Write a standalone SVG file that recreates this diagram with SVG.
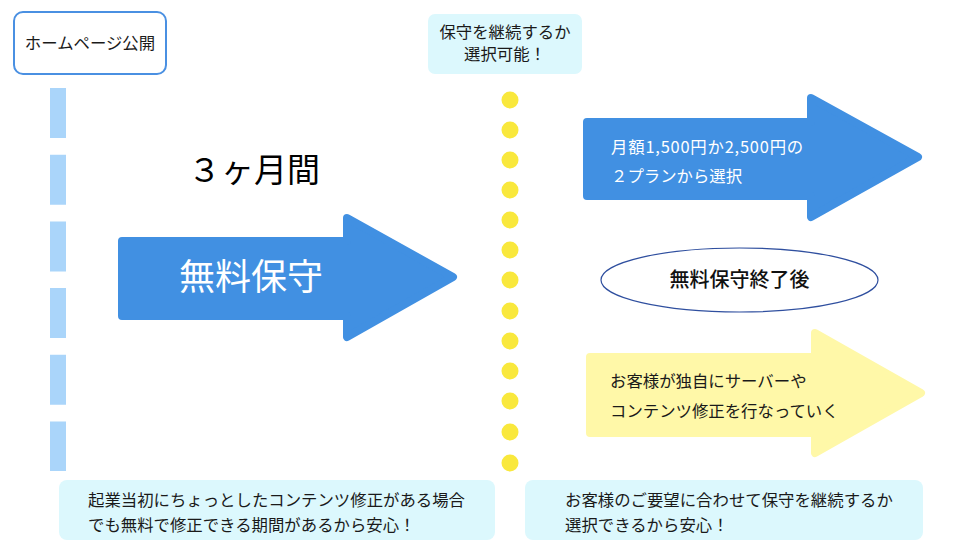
<svg xmlns="http://www.w3.org/2000/svg" width="968" height="555" viewBox="0 0 968 555">
  <style>
    text { font-family: "Noto Sans CJK JP", "Noto Sans", sans-serif; }
    .t16 { font-size: 16.4px; fill: #1a1a1a; }
    .w16 { font-size: 16.4px; fill: #ffffff; }
    .note { fill: #dcf8fd; }
    .barrow { fill: #4190e2; stroke: #4190e2; stroke-width: 8; stroke-linejoin: round; }
    .yarrow { fill: #fff8a8; stroke: #fff8a8; stroke-width: 8; stroke-linejoin: round; }
    .dot { fill: #f9e83c; }
  </style>
  <rect width="968" height="555" fill="#ffffff"/>

  <g id="connectors">
    <line x1="58" y1="88" x2="58" y2="471" stroke="#aad5fa" stroke-width="16" stroke-dasharray="50 16.7"/>
    <g id="dots">
      <circle class="dot" cx="510" cy="100" r="8.5"/>
      <circle class="dot" cx="510" cy="130" r="8.5"/>
      <circle class="dot" cx="510" cy="160" r="8.5"/>
      <circle class="dot" cx="510" cy="190" r="8.5"/>
      <circle class="dot" cx="510" cy="220" r="8.5"/>
      <circle class="dot" cx="510" cy="250" r="8.5"/>
      <circle class="dot" cx="510" cy="280" r="8.5"/>
      <circle class="dot" cx="510" cy="311" r="8.5"/>
      <circle class="dot" cx="510" cy="341" r="8.5"/>
      <circle class="dot" cx="510" cy="371" r="8.5"/>
      <circle class="dot" cx="510" cy="401" r="8.5"/>
      <circle class="dot" cx="510" cy="432" r="8.5"/>
      <circle class="dot" cx="510" cy="463" r="8.5"/>
    </g>
  </g>

  <g id="homepage">
    <rect x="14" y="12" width="152" height="62" rx="9" fill="#ffffff" stroke="#4a90e2" stroke-width="2"/>
    <text class="t16" x="90" y="49" text-anchor="middle">ホームページ公開</text>
  </g>

  <g id="choice-note">
    <rect class="note" x="428" y="14" width="154" height="60" rx="7"/>
    <text class="t16" x="505" y="38" text-anchor="middle">保守を継続するか</text>
    <text class="t16" x="505" y="60" text-anchor="middle">選択可能！</text>
  </g>

  <g id="period">
    <text x="254" y="182" text-anchor="middle" font-size="33" fill="#000000">３ヶ月間</text>
  </g>

  <g id="free-maintenance">
    <polygon class="barrow" points="122,241 347,241 347,218 453,277 347,337 347,316 122,316"/>
    <text x="251" y="290" text-anchor="middle" font-size="36" fill="#ffffff">無料保守</text>
  </g>

  <g id="plan">
    <polygon class="barrow" points="587,122 811,122 811,98 918,157 811,217 811,196 587,196"/>
    <text class="w16" x="611" y="153" letter-spacing="0.8">月額1,500円か2,500円の</text>
    <text class="w16" x="611" y="182">２プランから選択</text>
  </g>

  <g id="after-free">
    <ellipse cx="739.5" cy="280" rx="138.5" ry="32" fill="#ffffff" stroke="#2f4f9f" stroke-width="1.2"/>
    <text x="739.5" y="287" text-anchor="middle" font-size="20" font-weight="500" fill="#111111">無料保守終了後</text>
  </g>

  <g id="self">
    <polygon class="yarrow" points="590,357 815,357 815,333 921,393 815,453 815,433 590,433"/>
    <text class="t16" x="610" y="387">お客様が独自にサーバーや</text>
    <text class="t16" x="610" y="417">コンテンツ修正を行なっていく</text>
  </g>

  <g id="note-left">
    <rect class="note" x="59" y="480" width="436" height="60" rx="8"/>
    <text class="t16" x="88" y="506">起業当初にちょっとしたコンテンツ修正がある場合</text>
    <text class="t16" x="88" y="531">でも無料で修正できる期間があるから安心！</text>
  </g>

  <g id="note-right">
    <rect class="note" x="525" y="480" width="398" height="60" rx="8"/>
    <text class="t16" x="565" y="506">お客様のご要望に合わせて保守を継続するか</text>
    <text class="t16" x="565" y="531">選択できるから安心！</text>
  </g>
</svg>
